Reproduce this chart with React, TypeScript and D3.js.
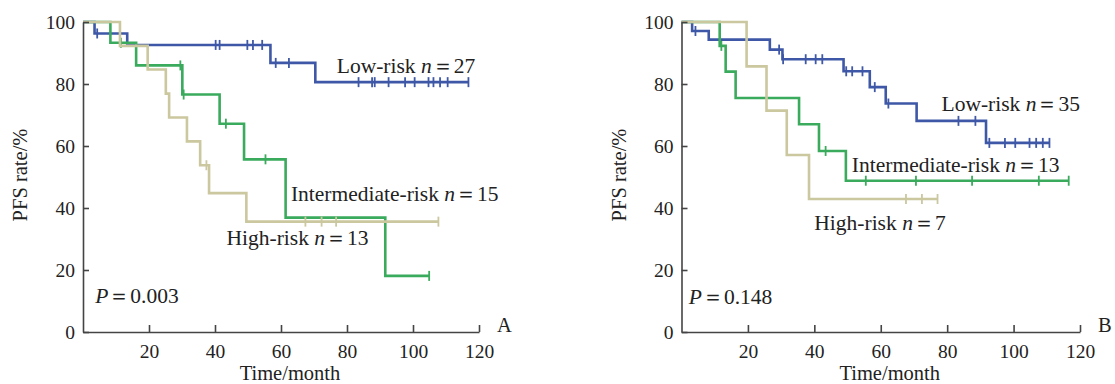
import React, { useEffect, useRef } from 'react'
import * as d3 from 'd3'

const xTicks = [20, 40, 60, 80, 100, 120]
const yTicks = [0, 20, 40, 60, 80, 100]

// Panel A — step times (month) and PFS (%) after each step, last time, censor times
const lowA_t = [0, 3.5, 13.4, 56.8, 70.4]
const lowA_s = [100, 96.3, 92.6, 86.8, 80.6]
const lowA_end = 116.8
const lowA_c = [4.3, 40.2, 41.4, 49.8, 51.5, 54.3, 58.4, 62.4, 83.5, 87.6, 88.4, 92.6, 97.6, 100.5, 104.7, 106.2, 108.2, 110.5, 116.8]

const midA_t = [0, 8.3, 16.1, 30.1, 41.4, 48.8, 61.4, 91.6]
const midA_s = [100, 93.3, 86.0, 76.6, 67.2, 55.7, 36.9, 18.1]
const midA_end = 104.9
const midA_c = [11.5, 29.5, 30.5, 43.3, 55.3, 104.9]

const highA_t = [0, 11.2, 19.6, 25.1, 26.1, 31.5, 35.5, 38.2, 49.5]
const highA_s = [100, 92.3, 84.7, 76.9, 69.2, 61.5, 53.8, 44.8, 35.6]
const highA_end = 107.7
const highA_c = [37.4, 67.4, 72.3, 76.7, 107.7]

// Panel B
const lowB_t = [0, 3.2, 8.2, 26.6, 30.4, 48.8, 56.7, 61.5, 70.8, 91.7]
const lowB_s = [100, 97.1, 94.3, 91.1, 88.0, 84.1, 79.0, 73.7, 68.1, 61.0]
const lowB_end = 110.8
const lowB_c = [4.2, 11.6, 29.4, 30.6, 37.4, 40.4, 42.4, 49.6, 51.4, 54.5, 58.2, 62.3, 83.4, 88.5, 92.7, 97.4, 100.5, 104.8, 106.8, 108.8, 110.8]

const midB_t = [0, 11.5, 13.3, 16.3, 35.4, 41.4, 49.5]
const midB_s = [100, 92.3, 84.0, 75.5, 67.0, 58.4, 48.8]
const midB_end = 116.6
const midB_c = [12.0, 43.4, 55.5, 70.6, 87.5, 107.6, 116.6]

const highB_t = [0, 19.6, 25.6, 31.7, 38.4]
const highB_s = [100, 85.7, 71.4, 57.1, 42.9]
const highB_end = 77.1
const highB_c = [67.6, 72.4, 77.1]

const colors = { low: '#3e58a7', mid: '#3aaa5c', high: '#cbc79f' }
const font = '"Liberation Serif", "Times New Roman", serif'

type Curve = { t: number[], s: number[], end: number, c: number[], color: string }
type Label = { pre: string, it: string, post: string, at: [number, number] }

const panels = [
    {
        letter: 'A',
        xr: [83, 479],
        curves: [
            { t: lowA_t, s: lowA_s, end: lowA_end, c: lowA_c, color: colors.low },
            { t: midA_t, s: midA_s, end: midA_end, c: midA_c, color: colors.mid },
            { t: highA_t, s: highA_s, end: highA_end, c: highA_c, color: colors.high },
        ] as Curve[],
        labels: [
            { pre: 'Low-risk ', it: 'n', post: '\uFF1D27', at: [76.9, 83.6] },
            { pre: 'Intermediate-risk ', it: 'n', post: '\uFF1D15', at: [63, 42.3] },
            { pre: 'High-risk ', it: 'n', post: '\uFF1D13', at: [43.5, 28] },
            { pre: '', it: 'P', post: '\uFF1D0.003', at: [3.7, 9.4] },
        ] as Label[],
    },
    {
        letter: 'B',
        xr: [681.5, 1080],
        curves: [
            { t: lowB_t, s: lowB_s, end: lowB_end, c: lowB_c, color: colors.low },
            { t: midB_t, s: midB_s, end: midB_end, c: midB_c, color: colors.mid },
            { t: highB_t, s: highB_s, end: highB_end, c: highB_c, color: colors.high },
        ] as Curve[],
        labels: [
            { pre: 'Low-risk ', it: 'n', post: '\uFF1D35', at: [78.3, 71.3] },
            { pre: 'Intermediate-risk ', it: 'n', post: '\uFF1D13', at: [51.3, 51.6] },
            { pre: 'High-risk ', it: 'n', post: '\uFF1D7', at: [40, 32.8] },
            { pre: '', it: 'P', post: '\uFF1D0.148', at: [2.2, 8.9] },
        ] as Label[],
    },
]

export default function App() {
    const ref = useRef<SVGSVGElement>(null)
    const width = 1115
    const height = 384

    useEffect(() => {
        const svg = d3.select(ref.current)
        svg.selectAll('*').remove()

        const y = d3.scaleLinear().domain([0, 100]).range([332, 22])

        panels.forEach(p => {
            const x = d3.scaleLinear().domain([0, 120]).range(p.xr)
            const g = svg.append('g')

            // curves
            const line = d3.line<[number, number]>()
                .x(d => x(d[0]))
                .y(d => y(d[1]))
                .curve(d3.curveStepAfter)

            p.curves.forEach(cv => {
                const pts: [number, number][] = cv.t.map((t, i) => [t, cv.s[i]])
                pts.push([cv.end, cv.s[cv.s.length - 1]])
                g.append('path')
                    .attr('d', line(pts))
                    .attr('fill', 'none')
                    .attr('stroke', cv.color)
                    .attr('stroke-width', 2.6)

                g.append('g')
                    .selectAll('line')
                    .data(cv.c)
                    .join('line')
                    .attr('x1', d => x(d))
                    .attr('x2', d => x(d))
                    .attr('y1', d => y(cv.s[d3.bisectRight(cv.t, d) - 1]) - 5)
                    .attr('y2', d => y(cv.s[d3.bisectRight(cv.t, d) - 1]) + 5)
                    .attr('stroke', cv.color)
                    .attr('stroke-width', 1.8)
            })

            // axes
            const xAxis = g.append('g')
                .attr('transform', `translate(0,${y(0)})`)
                .call(d3.axisBottom(x).tickValues(xTicks).tickSizeInner(-7).tickSizeOuter(0).tickPadding(12))
            const yAxis = g.append('g')
                .attr('transform', `translate(${x(0)},0)`)
                .call(d3.axisLeft(y).tickValues(yTicks).tickSizeInner(-6).tickSizeOuter(0).tickPadding(8))
            ;[xAxis, yAxis].forEach(a => {
                a.selectAll('path, line').attr('stroke', '#444').attr('stroke-width', 1.6)
                a.selectAll('text')
                    .attr('fill', '#222')
                    .style('font-family', font)
                    .style('font-size', '19.5px')
            })

            // labels
            p.labels.forEach(l => {
                const t = g.append('text')
                    .attr('x', x(l.at[0]))
                    .attr('y', y(l.at[1]))
                    .attr('fill', '#222')
                    .style('font-family', font)
                    .style('font-size', '21.5px')
                if (l.pre) t.append('tspan').text(l.pre)
                t.append('tspan').attr('font-style', 'italic').text(l.it)
                t.append('tspan').text(l.post)
            })

            g.append('text')
                .attr('x', x(60) + 9)
                .attr('y', 380)
                .attr('text-anchor', 'middle')
                .attr('fill', '#222')
                .style('font-family', font)
                .style('font-size', '20.5px')
                .text('Time/month')

            g.append('text')
                .attr('transform', `translate(${x(0) - 63},175) rotate(-90)`)
                .attr('dy', '0.35em')
                .attr('text-anchor', 'middle')
                .attr('fill', '#222')
                .style('font-family', font)
                .style('font-size', '20.5px')
                .text('PFS rate/%')

            g.append('text')
                .attr('x', x(120) + 18)
                .attr('y', y(0))
                .attr('fill', '#222')
                .style('font-family', font)
                .style('font-size', '20.5px')
                .text(p.letter)
        })
    })

    return (
        <div style={{ position: 'absolute', left: 0, top: 0 }}>
            <svg ref={ref} width={width} height={height} style={{ display: 'block', background: '#fff' }}></svg>
        </div>
    )
}
